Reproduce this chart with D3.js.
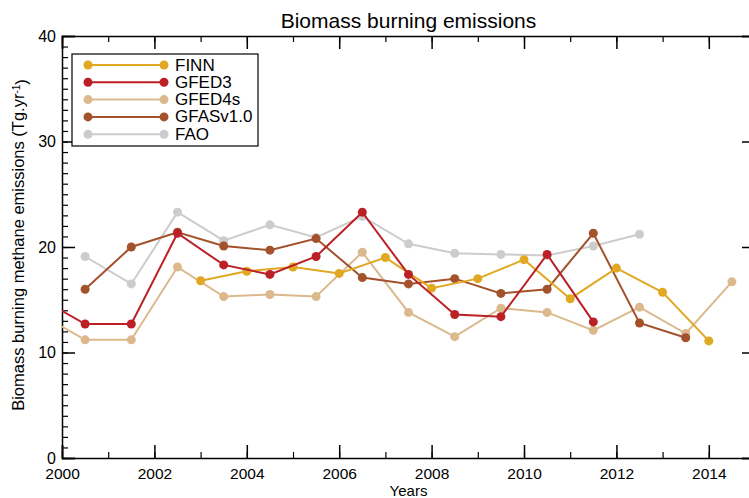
<!DOCTYPE html>
<html>
<head>
<meta charset="utf-8">
<script src="https://cdn.jsdelivr.net/npm/d3@7"></script>
<style>
  body { margin: 0; background: #fff; }
  svg { display: block; font-family: "Liberation Sans", Arial, Helvetica, sans-serif; }
</style>
</head>
<body>
<div id="chart"></div>
<script>
// series values (Tg/yr)
const finnYears = [2003, 2004, 2005, 2006, 2007, 2008, 2009, 2010, 2011, 2012, 2013, 2014];
const finn      = [16.8, 17.7, 18.1, 17.5, 19.0, 16.1, 17.0, 18.8, 15.1, 18.0, 15.7, 11.1];

const gfed3Years = [1999.5, 2000.5, 2001.5, 2002.5, 2003.5, 2004.5, 2005.5, 2006.5, 2007.5, 2008.5, 2009.5, 2010.5, 2011.5];
const gfed3      = [15.2, 12.7, 12.7, 21.3, 18.3, 17.4, 19.1, 23.3, 17.4, 13.6, 13.4, 19.3, 12.9];

const gfed4sYears = [1999.5, 2000.5, 2001.5, 2002.5, 2003.5, 2004.5, 2005.5, 2006.5, 2007.5, 2008.5, 2009.5, 2010.5, 2011.5, 2012.5, 2013.5, 2014.5];
const gfed4s      = [13.7, 11.2, 11.2, 18.1, 15.3, 15.5, 15.3, 19.5, 13.8, 11.5, 14.2, 13.8, 12.1, 14.3, 11.8, 16.7];

const gfasYears = [2000.5, 2001.5, 2002.5, 2003.5, 2004.5, 2005.5, 2006.5, 2007.5, 2008.5, 2009.5, 2010.5, 2011.5, 2012.5, 2013.5];
const gfas      = [16.0, 20.0, 21.4, 20.1, 19.7, 20.8, 17.1, 16.5, 17.0, 15.6, 16.0, 21.3, 12.8, 11.4];

const faoYears = [2000.5, 2001.5, 2002.5, 2003.5, 2004.5, 2005.5, 2006.5, 2007.5, 2008.5, 2009.5, 2010.5, 2011.5, 2012.5];
const fao      = [19.1, 16.5, 23.3, 20.6, 22.1, 20.9, 22.9, 20.3, 19.4, 19.3, 19.2, 20.1, 21.2];

const seriesNames = ["FINN", "GFED3", "GFED4s", "GFASv1.0", "FAO"];
const xTicks = [2000, 2002, 2004, 2006, 2008, 2010, 2012, 2014];
const yTicks = [0, 10, 20, 30, 40];

const colors = {
  "FINN": "#e1a823",
  "GFED3": "#bb2026",
  "GFED4s": "#dbb98d",
  "GFASv1.0": "#a3522b",
  "FAO": "#cccccc"
};

const series = [
  { name: "FAO", years: faoYears, values: fao },
  { name: "GFED4s", years: gfed4sYears, values: gfed4s },
  { name: "GFASv1.0", years: gfasYears, values: gfas },
  { name: "FINN", years: finnYears, values: finn },
  { name: "GFED3", years: gfed3Years, values: gfed3 }
];

const width = 749, height = 498;
const svg = d3.select("#chart").append("svg")
  .attr("width", width)
  .attr("height", height);

const x = d3.scaleLinear().domain([2000, 2015]).range([62, 755]);
const y = d3.scaleLinear().domain([0, 40]).range([458, 36]);

svg.append("defs").append("clipPath").attr("id", "plot-clip")
  .append("rect")
  .attr("x", x(2000)).attr("y", y(40))
  .attr("width", x(2015) - x(2000)).attr("height", y(0) - y(40));

// title
svg.append("text")
  .attr("x", (x(2000) + x(2015)) / 2)
  .attr("y", 28)
  .attr("text-anchor", "middle")
  .style("font-size", "21px")
  .text("Biomass burning emissions");

// axes: ticks point inward, mirrored on top and right
const minorX = d3.range(2000, 2016, 1);
const minorY = d3.range(0, 41, 1);

function axisLayer(axisFn, scale, transform, major, minor, labels) {
  const gMinor = svg.append("g").attr("transform", transform)
    .call(axisFn(scale).tickValues(minor).tickSize(-6).tickFormat(""));
  gMinor.select(".domain").remove();
  const gMajor = svg.append("g").attr("transform", transform)
    .call(axisFn(scale).tickValues(major).tickSize(-13).tickPadding(8)
      .tickFormat(labels ? d3.format("d") : ""));
  gMajor.select(".domain").attr("stroke-width", 1.5);
  gMajor.selectAll("text").style("font-size", "16px").attr("fill", "#000");
  gMinor.selectAll("line").attr("stroke-width", 1.2);
  gMajor.selectAll("line").attr("stroke-width", 1.5);
  return gMajor;
}

const xb = axisLayer(d3.axisBottom, x, `translate(0,${y(0)})`, xTicks, minorX, true);
xb.selectAll("text").attr("y", 21).attr("dy", null).style("font-size", "15.5px");
axisLayer(d3.axisTop, x, `translate(0,${y(40)})`, xTicks, minorX, false);
const yl = axisLayer(d3.axisLeft, y, `translate(${x(2000)},0)`, yTicks, minorY, true);
yl.selectAll("text").attr("x", -6);
axisLayer(d3.axisRight, y, `translate(${x(2015)},0)`, yTicks, minorY, false);

// axis titles
svg.append("text")
  .attr("x", (x(2000) + x(2015)) / 2)
  .attr("y", 495.5)
  .attr("text-anchor", "middle")
  .style("font-size", "15px")
  .text("Years");

const ylab = svg.append("text")
  .attr("transform", `translate(24,${(y(0) + y(40)) / 2 - 2}) rotate(-90)`)
  .attr("text-anchor", "middle")
  .style("font-size", "16.5px");
ylab.append("tspan").text("Biomass burning methane emissions (Tg.yr");
ylab.append("tspan").attr("dy", "-0.45em").style("font-size", "10px").text("-1");
ylab.append("tspan").attr("dy", "0.45em").text(")");

// data
const line = d3.line().x(d => x(d[0])).y(d => y(d[1]));
const plot = svg.append("g").attr("clip-path", "url(#plot-clip)");

series.forEach(s => {
  const pts = s.years.map((yr, i) => [yr, s.values[i]]);
  plot.append("path")
    .datum(pts)
    .attr("fill", "none")
    .attr("stroke", colors[s.name])
    .attr("stroke-width", 2)
    .attr("d", line);
  plot.selectAll(null)
    .data(pts.filter(d => d[0] >= 2000))
    .enter().append("circle")
    .attr("cx", d => x(d[0]))
    .attr("cy", d => y(d[1]))
    .attr("r", 4.5)
    .attr("fill", colors[s.name]);
});

// legend
const legend = svg.append("g");
legend.append("rect")
  .attr("x", 72).attr("y", 54)
  .attr("width", 186).attr("height", 92)
  .attr("fill", "#fff")
  .attr("stroke", "#000")
  .attr("stroke-width", 1.2);

seriesNames.forEach((name, i) => {
  const ly = 65 + i * 17.3;
  legend.append("line")
    .attr("x1", 88).attr("x2", 164)
    .attr("y1", ly).attr("y2", ly)
    .attr("stroke", colors[name]).attr("stroke-width", 2);
  legend.selectAll(null).data([88, 164]).enter().append("circle")
    .attr("cx", d => d).attr("cy", ly).attr("r", 4.5)
    .attr("fill", colors[name]);
  legend.append("text")
    .attr("x", 175).attr("y", ly + 5.5)
    .style("font-size", "17px")
    .text(name);
});
</script>
</body>
</html>
